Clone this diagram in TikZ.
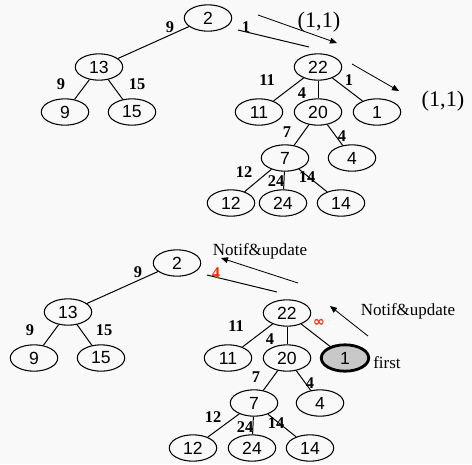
\documentclass[tikz,border=0pt]{standalone}
\usepackage{fontspec}
\setmainfont{Liberation Serif}
\newfontfamily\keyfont{Liberation Sans}
\newfontfamily\symfont{DejaVu Sans}
\usetikzlibrary{shapes.geometric,arrows.meta}
\definecolor{paper}{HTML}{F9F9F9}
\definecolor{costred}{HTML}{FF2A00}
\definecolor{marked}{HTML}{C8C8C8}

\begin{document}
\begin{tikzpicture}[x=0.03cm,y=-0.03cm,
  key/.style={draw,ellipse,line width=0.9pt,minimum width=40.5pt,minimum height=22.5pt,
    inner sep=0pt,font=\keyfont\fontsize{15}{15}\selectfont},
  wt/.style={font=\bfseries\fontsize{14}{14}\selectfont,inner sep=0pt},
  edge/.style={line width=0.85pt},
  msg/.style={line width=0.7pt,-{Triangle[length=6pt,width=5pt]}},
  txt/.style={font=\fontsize{14.5}{15}\selectfont,inner sep=0pt}]
  \fill[paper] (0,0) rectangle (472,464);

  % upper tree: keys
  \node[key] (t2)  at (208,18)  {2};
  \node[key] (t13) at (99,67)   {13};
  \node[key] (t9)  at (65,112)  {9};
  \node[key] (t15) at (132,112) {15};
  \node[key] (t22) at (318,67)  {22};
  \node[key] (t11) at (259,112) {11};
  \node[key] (t20) at (318,112) {20};
  \node[key] (t1)  at (377,112) {1};
  \node[key] (t7)  at (285,158) {7};
  \node[key] (t4)  at (352,158) {4};
  \node[key] (t12) at (231,203) {12};
  \node[key] (t24) at (283,203) {24};
  \node[key] (t14) at (341,203) {14};

  % upper tree: edges
  \draw[edge] (t2) -- (t13);
  \draw[edge] (t13) -- (t9);
  \draw[edge] (t13) -- (t15);
  \draw[edge] (t22) -- (t11);
  \draw[edge] (t22) -- (t20);
  \draw[edge] (t22) -- (t1);
  \draw[edge] (t20) -- (t7);
  \draw[edge] (t20) -- (t4);
  \draw[edge] (t7) -- (t12);
  \draw[edge] (t7) -- (t24);
  \draw[edge] (t7) -- (t14);
  \coordinate (t2cut) at (238,30);
  \coordinate (t22cut) at (309,47);
  \draw[edge] (t2cut) -- (t22cut);

  % upper tree: weights
  \node[wt] (tw2-13)  at (170,27)  {9};
  \node[wt] (tw2-22)  at (246,27)  {1};
  \node[wt] (tw13-9)  at (61,84)   {9};
  \node[wt] (tw13-15) at (137,84)  {15};
  \node[wt] (tw22-11) at (267,80)  {11};
  \node[wt] (tw22-20) at (302,93)  {4};
  \node[wt] (tw22-1)  at (349,80)  {1};
  \node[wt] (tw20-7)  at (287,132) {7};
  \node[wt] (tw20-4)  at (342,136) {4};
  \node[wt] (tw7-12)  at (244,172) {12};
  \node[wt] (tw7-24)  at (276,181) {24};
  \node[wt] (tw7-14)  at (307,177) {14};

  % upper tree: messages
  \coordinate (m1s) at (258,15);
  \coordinate (m1e) at (337,43);
  \draw[msg] (m1s) -- (m1e);
  \node[font=\fontsize{19}{19}\selectfont,inner sep=0pt] (m1) at (319,22) {(1,1)};
  \coordinate (m2s) at (352,64);
  \coordinate (m2e) at (399,91);
  \draw[msg] (m2s) -- (m2e);
  \node[font=\fontsize{19}{19}\selectfont,inner sep=0pt] (m2) at (443,101) {(1,1)};

  % lower tree: keys
  \node[key] (b2)  at (177,263) {2};
  \node[key] (b13) at (68,312)  {13};
  \node[key] (b9)  at (34,358)  {9};
  \node[key] (b15) at (101,358) {15};
  \node[key] (b22) at (287,313) {22};
  \node[key] (b11) at (228,358) {11};
  \node[key] (b20) at (287,358) {20};
  \node[key,fill=marked,line width=2.4pt] (b1) at (345,358) {1};
  \node[key] (b7)  at (254,403) {7};
  \node[key] (b4)  at (320,403) {4};
  \node[key] (b12) at (193,448) {12};
  \node[key] (b24) at (252,448) {24};
  \node[key] (b14) at (310,448) {14};

  % lower tree: edges
  \draw[edge] (b2) -- (b13);
  \draw[edge] (b13) -- (b9);
  \draw[edge] (b13) -- (b15);
  \draw[edge] (b22) -- (b11);
  \draw[edge] (b22) -- (b20);
  \draw[edge] (b22) -- (b1);
  \draw[edge] (b20) -- (b7);
  \draw[edge] (b20) -- (b4);
  \draw[edge] (b7) -- (b12);
  \draw[edge] (b7) -- (b24);
  \draw[edge] (b7) -- (b14);
  \coordinate (b2cut) at (207,275);
  \coordinate (b22cut) at (277,292);
  \draw[edge] (b2cut) -- (b22cut);

  % lower tree: weights
  \node[wt] (bw2-13)  at (138,272) {9};
  \node[wt,text=costred] (bw2-22) at (216,273) {4};
  \node[wt] (bw13-9)  at (30,330)  {9};
  \node[wt] (bw13-15) at (104,330) {15};
  \node[wt] (bw22-11) at (236,326) {11};
  \node[wt] (bw22-20) at (270,339) {4};
  \node[wt,text=costred,font=\symfont\bfseries\fontsize{12}{12}\selectfont] (bw22-1) at (319,323) {∞};
  \node[wt] (bw20-7)  at (256,377) {7};
  \node[wt] (bw20-4)  at (310,383) {4};
  \node[wt] (bw7-12)  at (213,417) {12};
  \node[wt] (bw7-24)  at (245,427) {24};
  \node[wt] (bw7-14)  at (276,423) {14};

  % lower tree: messages
  \coordinate (m3s) at (298,283);
  \coordinate (m3e) at (221,258);
  \draw[msg] (m3s) -- (m3e);
  \node[txt] (m3) at (260,251) {Notif\&update};
  \coordinate (m4s) at (368,336);
  \coordinate (m4e) at (330,306);
  \draw[msg] (m4s) -- (m4e);
  \node[txt] (m4) at (408,311) {Notif\&update};
  \node[txt] (first) at (387,363) {first};
\end{tikzpicture}
\end{document}
